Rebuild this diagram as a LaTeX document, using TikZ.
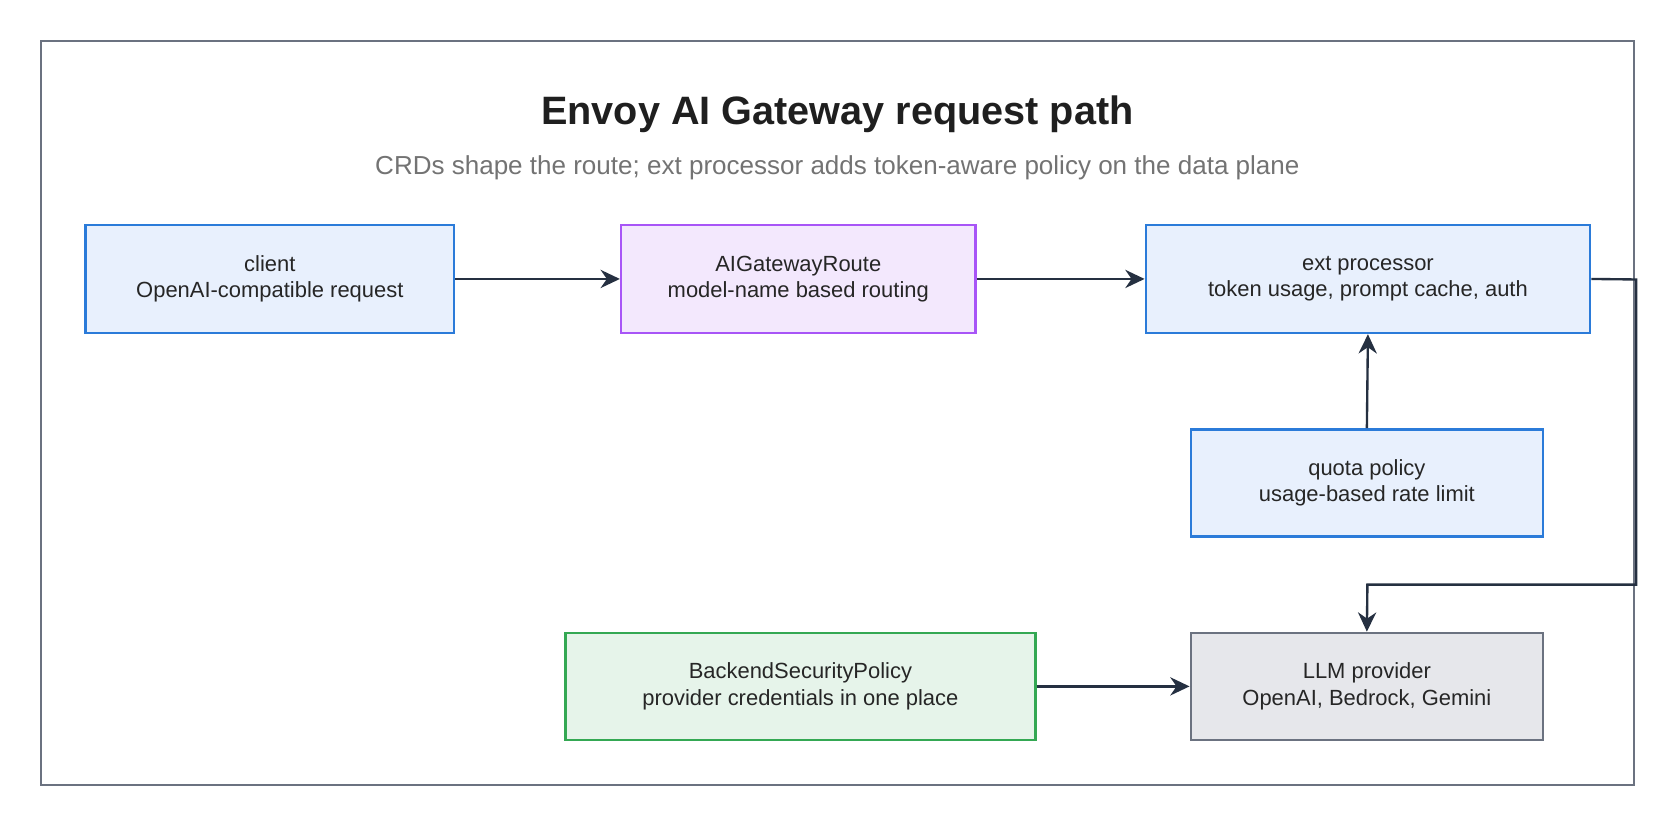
\documentclass[tikz,border=0pt]{standalone}
\usepackage{fontspec}
\setmainfont{Liberation Sans}
\usetikzlibrary{arrows.meta}
\definecolor{bluE}{HTML}{2B7BD9}\definecolor{bluF}{HTML}{E8F0FD}
\definecolor{purE}{HTML}{A855F7}\definecolor{purF}{HTML}{F3E8FD}
\definecolor{grnE}{HTML}{34A853}\definecolor{grnF}{HTML}{E6F4EA}
\definecolor{gryE}{HTML}{6B7280}\definecolor{gryF}{HTML}{E6E7EB}
\definecolor{arr}{HTML}{253041}
\begin{document}
\begin{tikzpicture}[x=1pt,y=-1pt,
 box/.style={draw,line width=2.2pt,align=center,font=\fontsize{20.5}{24.5}\selectfont,text=black!85},
 conn/.style={draw=arr,line width=2.2pt,-{Stealth[length=18pt,width=17pt]}}]
\useasboundingbox (0,0) rectangle (1568,772);
\draw[gryE,line width=2pt] (38,38) rectangle (1526,733);
\node[font=\bfseries\fontsize{37}{42}\selectfont,text=black!88] (title) at (782,107) {Envoy AI Gateway request path};
\node[font=\fontsize{24.3}{28}\selectfont,text=black!55] (sub) at (782,157) {CRDs shape the route; ext processor adds token-aware policy on the data plane};
\path[box,draw=bluE,fill=bluF] (80,210) rectangle (424,311);
\node[box,draw=none,minimum width=344pt,minimum height=101pt] (client) at (252,260.5) {client\\OpenAI-compatible request};
\path[box,draw=purE,fill=purF] (580,210) rectangle (911,311);
\node[box,draw=none,minimum width=331pt,minimum height=101pt] (route) at (745.5,260.5) {AIGatewayRoute\\model-name based routing};
\path[box,draw=bluE,fill=bluF] (1070,210) rectangle (1485,311);
\node[box,draw=none,minimum width=415pt,minimum height=101pt] (ext) at (1277.5,260.5) {ext processor\\token usage, prompt cache, auth};
\path[box,draw=bluE,fill=bluF] (1112,401) rectangle (1441,501);
\node[box,draw=none,minimum width=329pt,minimum height=100pt] (quota) at (1276.5,451) {quota policy\\usage-based rate limit};
\path[box,draw=gryE,fill=gryF] (1112,591) rectangle (1441,691);
\node[box,draw=none,minimum width=329pt,minimum height=100pt] (llm) at (1276.5,641) {LLM provider\\OpenAI, Bedrock, Gemini};
\path[box,draw=grnE,fill=grnF] (528,591) rectangle (967,691);
\node[box,draw=none,minimum width=439pt,minimum height=100pt] (bsp) at (747.5,641) {BackendSecurityPolicy\\provider credentials in one place};
\coordinate (c1) at (1528,261);
\coordinate (c2) at (1528,546);
\coordinate (c3) at (1277,546);
\draw[conn] (client.east) -- (route.west);
\draw[conn] (route.east) -- (ext.west);
\draw[conn] (quota.north) -- (ext.south);
\draw[conn] (ext.east) -- (c1) -- (c2) -- (c3) -- (llm.north);
\draw[conn] (bsp.east) -- (llm.west);
\end{tikzpicture}
\end{document}
